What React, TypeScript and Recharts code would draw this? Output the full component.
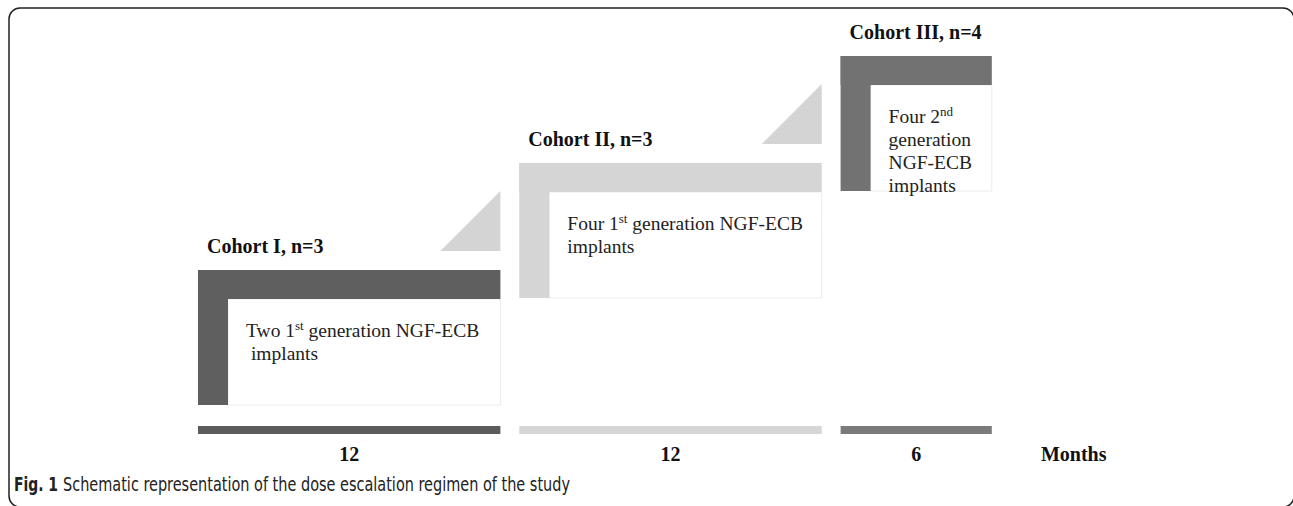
import { ComposedChart, XAxis, YAxis, ReferenceArea, Customized } from "recharts";

// dose escalation schedule
const cohortLabels = ["Cohort I, n=3", "Cohort II, n=3", "Cohort III, n=4"];
const cohortMonths = [12, 12, 6];
// each line: [normal, superscript, normal, ...]
const implantLines = [
  [["Two 1", "st", " generation NGF-ECB"], [" implants"]],
  [["Four 1", "st", " generation NGF-ECB"], ["implants"]],
  [["Four 2", "nd"], ["generation"], ["NGF-ECB"], ["implants"]],
];
const unitLabel = "Months";
const captionBold = "Fig. 1";
const captionText = "Schematic representation of the dose escalation regimen of the study";

const cohortColors = ["#5f5f5f", "#d5d5d5", "#727272"];
const timelineColors = ["#5c5c5c", "#d6d6d6", "#7a7a7a"];
const triangleColor = "#d4d4d4";

const W = 1293;
const H = 506;
const PX_MONTH = 25.2;
const X_ORIGIN = 198;
const PX_LEVEL = 107;
const Y_ORIGIN = 377;
const GAP = 0.75; // months of white space between blocks
const BAR_T = 29 / PX_LEVEL;
const POST_W = 30 / PX_MONTH;
const BOX_H = 135 / PX_LEVEL;
const TRI_W = 60 / PX_MONTH;
const TRI_H = 60 / PX_LEVEL;
const TRI_LIFT = 19 / PX_LEVEL;
const TL_Y = -49 / PX_LEVEL;
const TL_T = 8 / PX_LEVEL;

const serif = "'Liberation Serif', 'Times New Roman', serif";
const sans = "'Liberation Sans Narrow', 'DejaVu Sans Condensed', 'Noto Sans', sans-serif";

const blocks = cohortMonths.map((m, i) => {
  const start = cohortMonths.slice(0, i).reduce((a, b) => a + b, 0) + i * GAP;
  return { label: cohortLabels[i], months: m, start, end: start + m, level: i + 1 };
});
const lastEnd = blocks[blocks.length - 1].end;

const Frame = () => (
  <g>
    <rect x={9} y={8} width={1285} height={499} rx={11} fill="none" stroke="#222" strokeWidth={1.5} />
    <text x={14} y={491} fontFamily={sans} fontWeight="bold" fontSize={19} fill="#222" textLength={44} lengthAdjust="spacingAndGlyphs">
      {captionBold}
    </text>
    <text x={63} y={491} fontFamily={sans} fontSize={19} fill="#222" textLength={507} lengthAdjust="spacingAndGlyphs">
      {captionText}
    </text>
  </g>
);

export default function App() {
  return (
    <div style={{ position: "absolute", left: 0, top: 0 }}>
      <ComposedChart width={W} height={H} data={blocks} margin={{ top: 0, right: 0, bottom: 0, left: 0 }}>
        <XAxis type="number" dataKey="start" hide domain={[-X_ORIGIN / PX_MONTH, (W - X_ORIGIN) / PX_MONTH]} allowDataOverflow />
        <YAxis type="number" hide width={0} domain={[(Y_ORIGIN - H) / PX_LEVEL, Y_ORIGIN / PX_LEVEL]} allowDataOverflow />
        <Customized component={Frame} />

        {blocks.map((b, i) => (
          <ReferenceArea
            key={`tri-${i}`}
            x1={b.end - TRI_W}
            x2={b.end}
            y1={b.level + TRI_LIFT}
            y2={b.level + TRI_LIFT + TRI_H}
            ifOverflow="visible"
            shape={(p: any) =>
              i < blocks.length - 1 ? (
                <path
                  d={`M${p.x},${p.y + p.height}L${p.x + p.width},${p.y + p.height}L${p.x + p.width},${p.y}Z`}
                  fill={triangleColor}
                />
              ) : (
                <g />
              )
            }
          />
        ))}

        {blocks.map((b, i) => (
          <ReferenceArea
            key={`box-${i}`}
            x1={b.start + POST_W}
            x2={b.end}
            y1={b.level - BOX_H}
            y2={b.level - BAR_T}
            ifOverflow="visible"
            shape={(p: any) => (
              <g>
                <rect x={p.x} y={p.y} width={p.width} height={p.height} fill="#fff" stroke="#ececec" strokeWidth={1} />
                <text x={p.x + 18} y={p.y + 38} fontFamily={serif} fontSize={19.5} fill="#222" style={{ whiteSpace: "pre" }}>
                  {implantLines[i].map((line, li) => (
                    <tspan key={li} x={p.x + 18} y={p.y + 38 + li * 23}>
                      {line.map((seg, k) =>
                        k % 2 === 1 ? (
                          <tspan key={k} fontSize={13} dy={-7}>{seg}</tspan>
                        ) : (
                          <tspan key={k} dy={k > 0 ? 7 : 0}>{seg}</tspan>
                        )
                      )}
                    </tspan>
                  ))}
                </text>
              </g>
            )}
          />
        ))}

        {blocks.map((b, i) => (
          <ReferenceArea
            key={`post-${i}`}
            x1={b.start}
            x2={b.start + POST_W}
            y1={b.level - BOX_H}
            y2={b.level}
            fill={cohortColors[i]}
            fillOpacity={1}
            stroke="none"
            ifOverflow="visible"
          />
        ))}

        {blocks.map((b, i) => (
          <ReferenceArea
            key={`top-${i}`}
            x1={b.start}
            x2={b.end}
            y1={b.level - BAR_T}
            y2={b.level}
            ifOverflow="visible"
            shape={(p: any) => (
              <g>
                <rect x={p.x} y={p.y} width={p.width} height={p.height} fill={cohortColors[i]} />
                <text x={p.x + 9} y={p.y - 17} fontFamily={serif} fontWeight="bold" fontSize={20} fill="#111">
                  {b.label}
                </text>
              </g>
            )}
          />
        ))}

        {blocks.map((b, i) => (
          <ReferenceArea
            key={`tl-${i}`}
            x1={b.start}
            x2={b.end}
            y1={TL_Y - TL_T}
            y2={TL_Y}
            ifOverflow="visible"
            shape={(p: any) => (
              <g>
                <rect x={p.x} y={p.y} width={p.width} height={p.height} fill={timelineColors[i]} />
                <text x={p.x + p.width / 2} y={p.y + p.height + 27} textAnchor="middle" fontFamily={serif} fontWeight="bold" fontSize={20} fill="#111">
                  {String(b.months)}
                </text>
              </g>
            )}
          />
        ))}

        <ReferenceArea
          x1={lastEnd + GAP}
          x2={lastEnd + GAP + 5}
          y1={TL_Y - TL_T}
          y2={TL_Y}
          ifOverflow="visible"
          shape={(p: any) => (
            <text x={p.x + p.width / 2} y={p.y + p.height + 27} textAnchor="middle" fontFamily={serif} fontWeight="bold" fontSize={20} fill="#111">
              {unitLabel}
            </text>
          )}
        />
      </ComposedChart>
    </div>
  );
}
